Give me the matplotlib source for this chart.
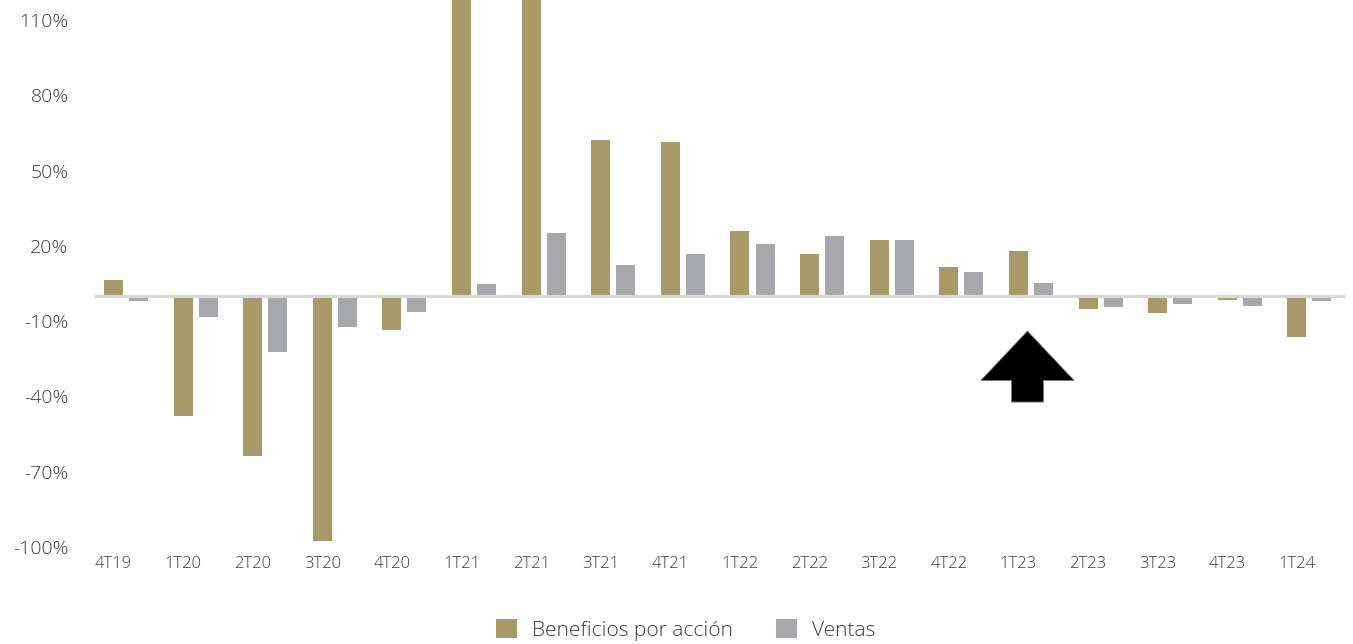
import matplotlib
matplotlib.use("Agg")
import matplotlib.pyplot as plt
import numpy as np
from matplotlib.patches import Patch, FancyArrow

plt.rcParams["font.family"] = ["Open Sans", "DejaVu Sans"]
plt.rcParams["font.weight"] = "light"

# quarterly year-on-year growth, %
quarters = ["4T19", "1T20", "2T20", "3T20", "4T20", "1T21", "2T21", "3T21", "4T21",
            "1T22", "2T22", "3T22", "4T22", "1T23", "2T23", "3T23", "4T23", "1T24"]
eps_growth = [6.2, -47.9, -63.8, -97.7, -13.6, 150.0, 190.0, 62.0, 61.2,
              25.7, 16.9, 22.5, 11.4, 18.1, -5.4, -6.6, -1.8, -16.5]
sales_growth = [-2.1, -8.4, -22.4, -12.4, -6.5, 4.6, 24.9, 12.5, 16.9,
                20.9, 24.1, 22.5, 9.4, 5.0, -4.6, -3.4, -4.2, -2.2]
ytick_values = [-100, -70, -40, -10, 20, 50, 80, 110]
ytick_labels = ["-100%", "-70%", "-40%", "-10%", "20%", "50%", "80%", "110%"]
series_names = ["Beneficios por acción", "Ventas"]
marked_quarter = "1T23"

EPS_COLOR = "#A89968"
SALES_COLOR = "#A7A8AC"
TEXT_COLOR = "#3C3C3C"

fig = plt.figure(figsize=(13.53, 6.44), dpi=100)
ax = fig.add_axes([0.0702, 0.151, 0.9238, 0.849])

x = np.arange(len(quarters))
bar_w = 0.273
offset = 0.36

ax.bar(x, eps_growth, width=bar_w, color=EPS_COLOR, zorder=2)
ax.bar(x + offset, sales_growth, width=bar_w, color=SALES_COLOR, zorder=2)
ax.axhline(0, color="#D9D9D9", linewidth=2.3, zorder=3)

# up arrow under the highlighted quarter
qi = quarters.index(marked_quarter)
arrow_x = qi + 0.13
ax.add_patch(FancyArrow(arrow_x, -42.3, 0, 28.3, width=0.46, head_width=1.34,
                        head_length=19.7, length_includes_head=True,
                        facecolor="black", edgecolor="#777777", linewidth=0.6,
                        zorder=4))

ax.set_xlim(-0.266, 17.69)
ax.set_ylim(-100, 118)

ax.set_xticks(x)
ax.set_xticklabels(quarters, fontsize=12, color=TEXT_COLOR)
ax.set_yticks(ytick_values)
ax.set_yticklabels(ytick_labels, fontsize=14, color=TEXT_COLOR)
ax.tick_params(axis="both", length=0)
ax.tick_params(axis="x", pad=7)
ax.tick_params(axis="y", pad=19)

for s in ax.spines.values():
    s.set_visible(False)

handles = [Patch(facecolor=EPS_COLOR, edgecolor="none"),
           Patch(facecolor=SALES_COLOR, edgecolor="none")]
fig.legend(handles, series_names, loc="center", bbox_to_anchor=(0.507, 0.0217),
           ncol=2, frameon=False, fontsize=15, handlelength=1.0, handleheight=1.05,
           handletextpad=0.72, columnspacing=2.07, labelcolor=TEXT_COLOR,
           borderpad=0, borderaxespad=0)

fig.savefig("out.png", dpi=100)
